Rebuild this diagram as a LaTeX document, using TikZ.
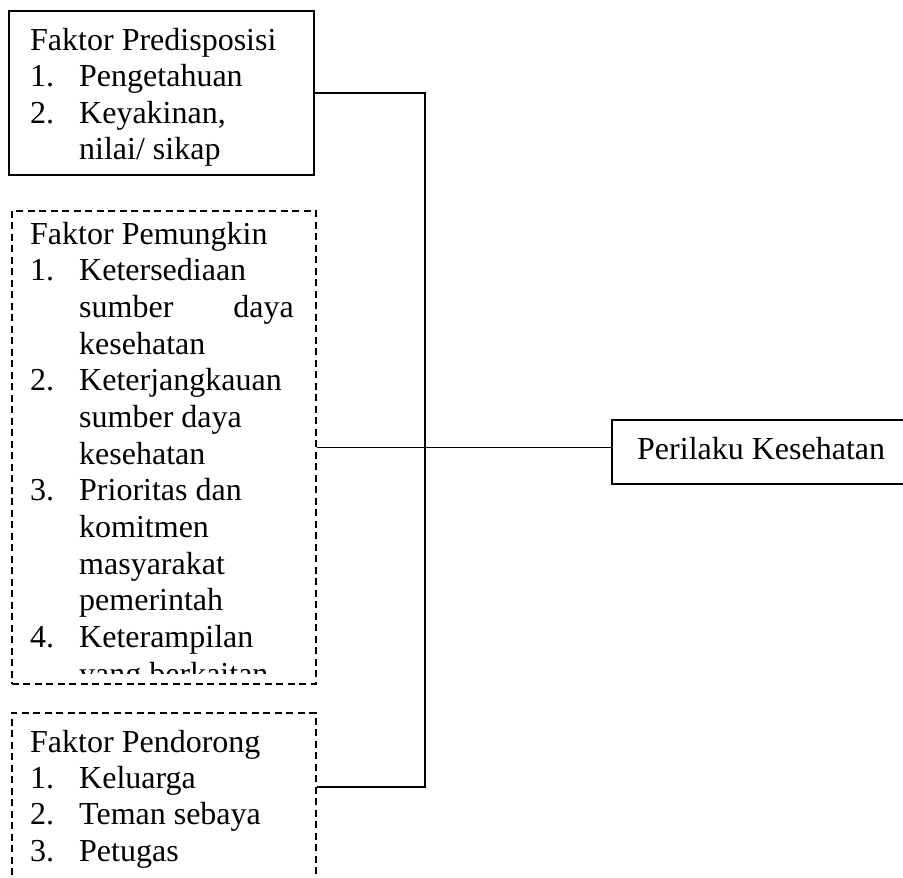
\documentclass[tikz,border=0pt]{standalone}
\usepackage{fontspec}
\setmainfont{Liberation Serif}
\begin{document}
\begin{tikzpicture}[x=1pt,y=-1pt,
  dashbox/.style={draw,line width=1.7pt,dash pattern=on 7pt off 4.5pt,anchor=north west,inner sep=0pt},
  plainbox/.style={draw,line width=1.7pt,anchor=north west,inner sep=0pt},
  txt/.style={anchor=base west,inner sep=0pt,font=\fontsize{32}{36}\selectfont},
  conn/.style={line width=1.7pt}]
\useasboundingbox (0,0) rectangle (903,878);
% boxes
\node[plainbox,minimum width=305pt,minimum height=164pt] (box1) at (8,10) {};
\node[dashbox,minimum width=304pt,minimum height=473pt] (box2) at (11,210) {};
\node[dashbox,minimum width=304pt,minimum height=260pt] (box3) at (11,712) {};
\node[plainbox,minimum width=300pt,minimum height=64pt] (box4) at (611,419) {};
% box 1 text
\node[txt] (a0) at (30,50) {Faktor Predisposisi};
\node[txt] (a1n) at (30,86.5) {1.};
\node[txt] (a1) at (79,86.5) {Pengetahuan};
\node[txt] (a2n) at (30,123) {2.};
\node[txt] (a2) at (79,123) {Keyakinan,};
\node[txt] (a2b) at (79,159) {nilai/ sikap};
% box 2 text (clipped)
\begin{scope}
\clip (11,210) rectangle (315,673);
\node[txt] (b0) at (30,244) {Faktor Pemungkin};
\node[txt] (b1n) at (30,280.7) {1.};
\node[txt] (b1) at (79,280.7) {Ketersediaan};
\node[txt] (b1b) at (79,317.4) {sumber};
\node[txt,anchor=base east] (b1c) at (294,317.4) {daya};
\node[txt] (b1d) at (79,354) {kesehatan};
\node[txt] (b2n) at (30,390.7) {2.};
\node[txt] (b2) at (79,390.7) {Keterjangkauan};
\node[txt] (b2b) at (79,427.4) {sumber daya};
\node[txt] (b2c) at (79,464) {kesehatan};
\node[txt] (b3n) at (30,500.7) {3.};
\node[txt] (b3) at (79,500.7) {Prioritas dan};
\node[txt] (b3b) at (79,537.4) {komitmen};
\node[txt] (b3c) at (79,574) {masyarakat};
\node[txt] (b3d) at (79,610.7) {pemerintah};
\node[txt] (b4n) at (30,647.4) {4.};
\node[txt] (b4) at (79,647.4) {Keterampilan};
\node[txt] (b4b) at (79,684) {yang berkaitan};
\end{scope}
% box 3 text
\node[txt] (c0) at (30,752) {Faktor Pendorong};
\node[txt] (c1n) at (30,788) {1.};
\node[txt] (c1) at (79,788) {Keluarga};
\node[txt] (c2n) at (30,824.5) {2.};
\node[txt] (c2) at (79,824.5) {Teman sebaya};
\node[txt] (c3n) at (30,861) {3.};
\node[txt] (c3) at (79,861) {Petugas};
% box 4 text
\node[txt] (d0) at (637,459) {Perilaku Kesehatan};
% connectors
\coordinate (bus) at (425,0);
\coordinate (p3) at ([yshift=-75pt]box3.north east);
\draw[conn] (box1.east) -- (box1.east -| bus) -- (p3 -| bus) -- (p3);
\draw[conn] (box2.east) -- (box2.east -| box4.west);
\end{tikzpicture}
\end{document}
